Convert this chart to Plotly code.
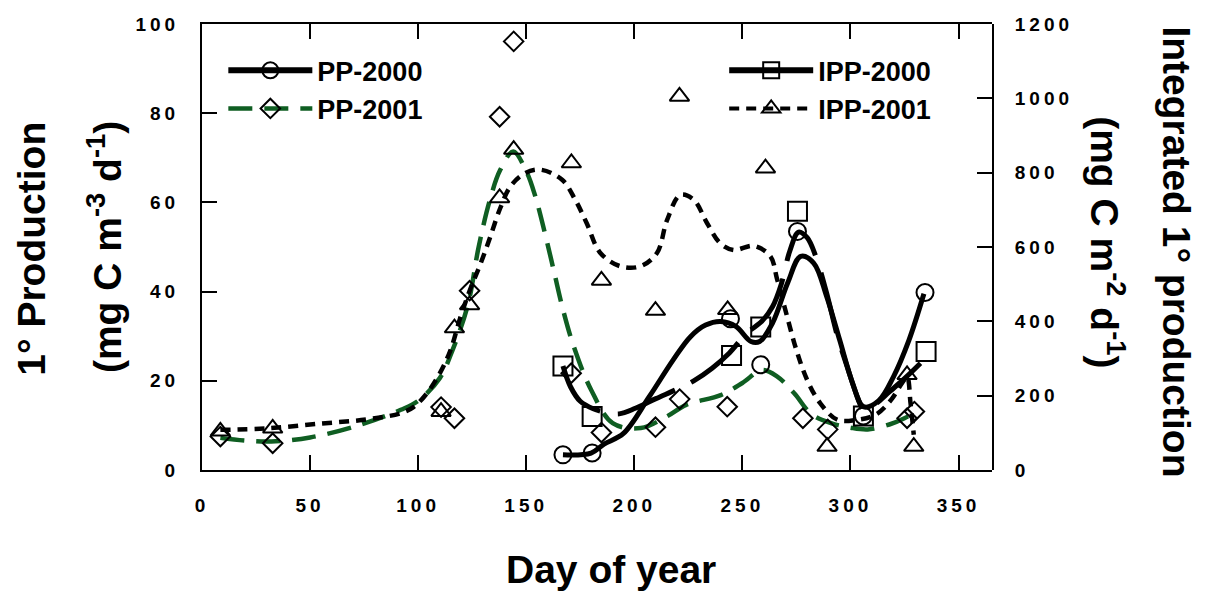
import plotly.graph_objects as go

# ---- Observed values ----
# Primary production, 2000 (mg C m-3 d-1)
pp2000_day = [167, 180.5, 244.5, 258.5, 275.5, 306, 334.5]
pp2000_val = [3.4, 3.8, 33.9, 23.6, 53.5, 12.1, 39.8]

# Integrated primary production, 2000 (mg C m-2 d-1)
ipp2000_day = [167, 180.5, 245, 258.5, 275.5, 306, 335]
ipp2000_val = [280, 144, 308, 385, 696, 145, 319]

# Primary production, 2001 (mg C m-3 d-1)
pp2001_day = [8.5, 32.7, 110.6, 116.8, 123.8, 137.7, 144.2, 170.8, 184.8,
              209.8, 221, 243, 278, 289.5, 326.2, 329.6]
pp2001_val = [7.5, 6.0, 14.1, 11.6, 40.2, 79.2, 96.1, 21.7, 8.4,
              9.6, 15.9, 14.2, 11.6, 9.1, 11.6, 13.1]

# Integrated primary production, 2001 (mg C m-2 d-1)
ipp2001_day = [8.5, 32.7, 110.6, 116.8, 123.8, 137.7, 144.2, 170.9, 184.8,
               209.8, 220.9, 243.2, 260.7, 289.2, 326.2, 329.3]
ipp2001_val = [104, 112, 157, 382, 444, 732, 862, 826, 510,
               429, 1005, 431, 812, 63, 256, 63]

# ---- Smoothed seasonal curves ----
pp2000_fit_day = [167, 180, 186, 195, 207, 218, 226, 233, 240, 247, 254, 258,
                  264, 271, 277, 283, 289, 295, 301, 306, 313, 320, 327, 334]
pp2000_fit_val = [3.4, 3.8, 5.8, 8.2, 16.5, 24.7, 29.9, 32.5, 33.3, 32.2, 28.8, 28.8,
                  33, 42, 47.9, 46.4, 38.9, 29.2, 19.5, 14.2, 15.5, 21, 29, 39.5]

pp2001_fit_day = [8.5, 20, 32, 50, 73, 92, 100, 110, 116, 123, 128, 133, 138, 144,
                  150, 154, 159, 163, 167, 172, 180, 190, 203, 215, 224, 240, 250,
                  259, 266, 274, 282, 291, 300, 308, 318, 325, 330]
pp2001_fit_val = [7.2, 6.6, 6.4, 7.3, 10.1, 13.5, 15.5, 20.6, 27, 37, 50, 60.2, 67.3, 71.4,
                  67, 61.7, 52.4, 44.2, 36, 27.7, 18, 10.5, 9.4, 12, 14.6, 16.8, 19.5,
                  22.4, 21, 17.2, 12.5, 10.5, 9.5, 9.1, 10.2, 11.6, 13]

ipp2000_fit_day = [167, 170.5, 175, 181, 187, 193, 200.5, 210, 220, 227.5, 236, 244,
                   252, 259, 264, 268, 272, 276, 280, 284, 289, 294, 298.5, 303,
                   306.5, 311, 318, 326, 332.4]
ipp2000_fit_val = [280, 224, 185, 165, 155, 151, 166, 192, 218, 240, 274, 315,
                   368, 400, 440, 500, 590, 640, 625, 574, 476, 360, 278, 200,
                   160, 175, 210, 251, 287]

ipp2001_fit_day = [8.5, 30, 53, 76, 92, 98, 104, 110, 115, 119.5, 124, 129, 133.4,
                   138, 142.7, 149.6, 156.5, 166.6, 172.7, 178, 184.3, 193.6, 202.8,
                   210.5, 215.2, 221.3, 227.5, 233.7, 239.8, 246, 255.3, 263, 266,
                   270.7, 275, 280, 286, 294, 303, 312, 319, 324, 326.2, 327.8, 329.3]
ipp2001_fit_val = [108, 112, 124, 136, 153, 170, 206, 260, 323, 410, 485, 557, 628,
                   705, 763, 799, 808, 781, 727, 664, 584, 548, 548,
                   584, 673, 740, 727, 664, 610, 592, 603, 575, 515,
                   413, 323, 242, 180, 135, 135, 150, 190, 235, 250, 180, 95]

x_ticks = [0, 50, 100, 150, 200, 250, 300, 350]
y_ticks = [0, 20, 40, 60, 80, 100]
y2_ticks = [0, 200, 400, 600, 800, 1000, 1200]
x_range = [0, 365.5]
y_range = [0, 100]
y2_range = [0, 1200]

GREEN = "#0f5e22"
BLACK = "black"
CLEAR = "rgba(0,0,0,0)"
FONT = "Liberation Sans, Arial, sans-serif"

IPP2000_DASH = "62px,18px"
IPP2001_DASH = "10px,7px"
PP2001_DASH = "24px,12px"

TICK_LEN = 15         # inward tick length in px
LABEL_GAP = 18        # gap between frame and tick labels in px

fig = go.Figure()

# curves
fig.add_trace(go.Scatter(x=pp2001_fit_day, y=pp2001_fit_val, mode="lines",
                         line=dict(color=GREEN, width=4.5, dash=PP2001_DASH, shape="spline"),
                         showlegend=False, hoverinfo="skip"))
fig.add_trace(go.Scatter(x=ipp2001_fit_day, y=ipp2001_fit_val, mode="lines", yaxis="y2",
                         line=dict(color=BLACK, width=4.5, dash=IPP2001_DASH, shape="spline"),
                         showlegend=False, hoverinfo="skip"))
fig.add_trace(go.Scatter(x=ipp2000_fit_day, y=ipp2000_fit_val, mode="lines", yaxis="y2",
                         line=dict(color=BLACK, width=5, dash=IPP2000_DASH, shape="spline"),
                         showlegend=False, hoverinfo="skip"))
fig.add_trace(go.Scatter(x=pp2000_fit_day, y=pp2000_fit_val, mode="lines",
                         line=dict(color=BLACK, width=5, shape="spline"),
                         showlegend=False, hoverinfo="skip"))

# observations
mk = dict(color=BLACK, width=2)
fig.add_trace(go.Scatter(x=pp2000_day, y=pp2000_val, mode="markers", showlegend=False,
                         marker=dict(symbol="circle-open", size=17, line=mk, color=BLACK)))
fig.add_trace(go.Scatter(x=pp2001_day, y=pp2001_val, mode="markers", showlegend=False,
                         marker=dict(symbol="diamond-open", size=15, line=mk, color=BLACK)))
fig.add_trace(go.Scatter(x=ipp2000_day, y=ipp2000_val, mode="markers", yaxis="y2", showlegend=False,
                         marker=dict(symbol="square-open", size=19, line=mk, color=BLACK)))
fig.add_trace(go.Scatter(x=ipp2001_day, y=ipp2001_val, mode="markers", yaxis="y2", showlegend=False,
                         marker=dict(symbol="triangle-up-open", size=17, line=mk, color=BLACK)))

# legend entries
fig.add_trace(go.Scatter(x=[None], y=[None], mode="lines+markers", name="PP-2000", legend="legend",
                         line=dict(color=BLACK, width=6),
                         marker=dict(symbol="circle-open", size=17, line=mk, color=BLACK)))
fig.add_trace(go.Scatter(x=[None], y=[None], mode="lines+markers", name="PP-2001", legend="legend",
                         line=dict(color=GREEN, width=4.5, dash=PP2001_DASH),
                         marker=dict(symbol="diamond-open", size=15, line=mk, color=BLACK)))
fig.add_trace(go.Scatter(x=[None], y=[None], mode="lines+markers", name="IPP-2000", legend="legend2",
                         line=dict(color=BLACK, width=6),
                         marker=dict(symbol="square-open", size=19, line=mk, color=BLACK)))
fig.add_trace(go.Scatter(x=[None], y=[None], mode="lines+markers", name="IPP-2001", legend="legend2",
                         line=dict(color=BLACK, width=4, dash=IPP2001_DASH),
                         marker=dict(symbol="triangle-up-open", size=17, line=mk, color=BLACK)))

# empty traces that attach the label axes to the plot
for xa, ya in (("x2", "y"), ("x", "y3"), ("x", "y4")):
    fig.add_trace(go.Scatter(x=[None], y=[None], xaxis=xa, yaxis=ya, mode="markers",
                             showlegend=False, hoverinfo="skip"))

tickfont = dict(family=FONT, size=19, color=BLACK, weight="bold")
legfont = dict(family=FONT, size=27, color=BLACK, weight="bold")
titlefont = dict(family=FONT, size=39, color=BLACK, weight="bold")

# frame axes: line plus inward tick marks
frame_axis = dict(showline=True, linecolor=BLACK, linewidth=2, ticks="inside",
                  tickcolor=BLACK, tickwidth=2, ticklen=TICK_LEN, showticklabels=False,
                  showgrid=False, zeroline=False)
# label axes: clear outside ticks only set the gap to the labels
label_axis = dict(showline=False, ticks="outside", ticklen=LABEL_GAP, tickcolor=CLEAR,
                  showgrid=False, zeroline=False, tickfont=tickfont)

fig.update_layout(
    width=1214, height=592,
    margin=dict(l=202, r=222, t=24, b=122),
    paper_bgcolor="white", plot_bgcolor=CLEAR,
    xaxis=dict(range=x_range, tickvals=x_ticks, mirror="ticks", **frame_axis),
    xaxis2=dict(range=x_range, tickvals=x_ticks, overlaying="x", anchor="y",
                side="bottom", **label_axis),
    yaxis=dict(range=y_range, tickvals=y_ticks, **frame_axis),
    yaxis3=dict(range=y_range, tickvals=y_ticks, overlaying="y", anchor="x",
                side="left", **label_axis),
    yaxis2=dict(range=y2_range, tickvals=y2_ticks, anchor="x", side="right", **frame_axis),
    yaxis4=dict(range=y2_range, tickvals=y2_ticks, overlaying="y2", anchor="x",
                side="right", **label_axis),
    legend=dict(x=0.027, y=0.95, xanchor="left", yanchor="top", font=legfont,
                bgcolor="rgba(0,0,0,0)", itemwidth=84, tracegroupgap=0),
    legend2=dict(x=0.661, y=0.95, xanchor="left", yanchor="top", font=legfont,
                 bgcolor="rgba(0,0,0,0)", itemwidth=84, tracegroupgap=0),
    annotations=[
        dict(text="Day of year", xref="paper", yref="paper", x=0.518, y=-0.222,
             xanchor="center", yanchor="middle", showarrow=False, font=titlefont),
        dict(text="1° Production", xref="paper", yref="paper", x=-0.216, y=0.497,
             xanchor="center", yanchor="middle", showarrow=False, textangle=-90, font=titlefont),
        dict(text="(mg C m<sup>-3</sup> d<sup>-1</sup>)", xref="paper", yref="paper",
             x=-0.124, y=0.5, xanchor="center", yanchor="middle", showarrow=False,
             textangle=-90, font=titlefont),
        dict(text="Integrated 1° production", xref="paper", yref="paper", x=1.233, y=0.49,
             xanchor="center", yanchor="middle", showarrow=False, textangle=90, font=titlefont),
        dict(text="(mg C m<sup>-2</sup> d<sup>-1</sup>)", xref="paper", yref="paper",
             x=1.146, y=0.51, xanchor="center", yanchor="middle", showarrow=False,
             textangle=90, font=titlefont),
    ],
)

# widen the character spacing of the tick labels
spacing_js = """
var gd = document.getElementById('{plot_id}');
function spaceLabels() {
  gd.querySelectorAll('g.x2tick text, g.y3tick text, g.y4tick text').forEach(function (t) {
    t.style.letterSpacing = '4px';
  });
}
spaceLabels();
gd.on('plotly_afterplot', spaceLabels);
"""

fig.write_html("out.html", post_script=spacing_js)
